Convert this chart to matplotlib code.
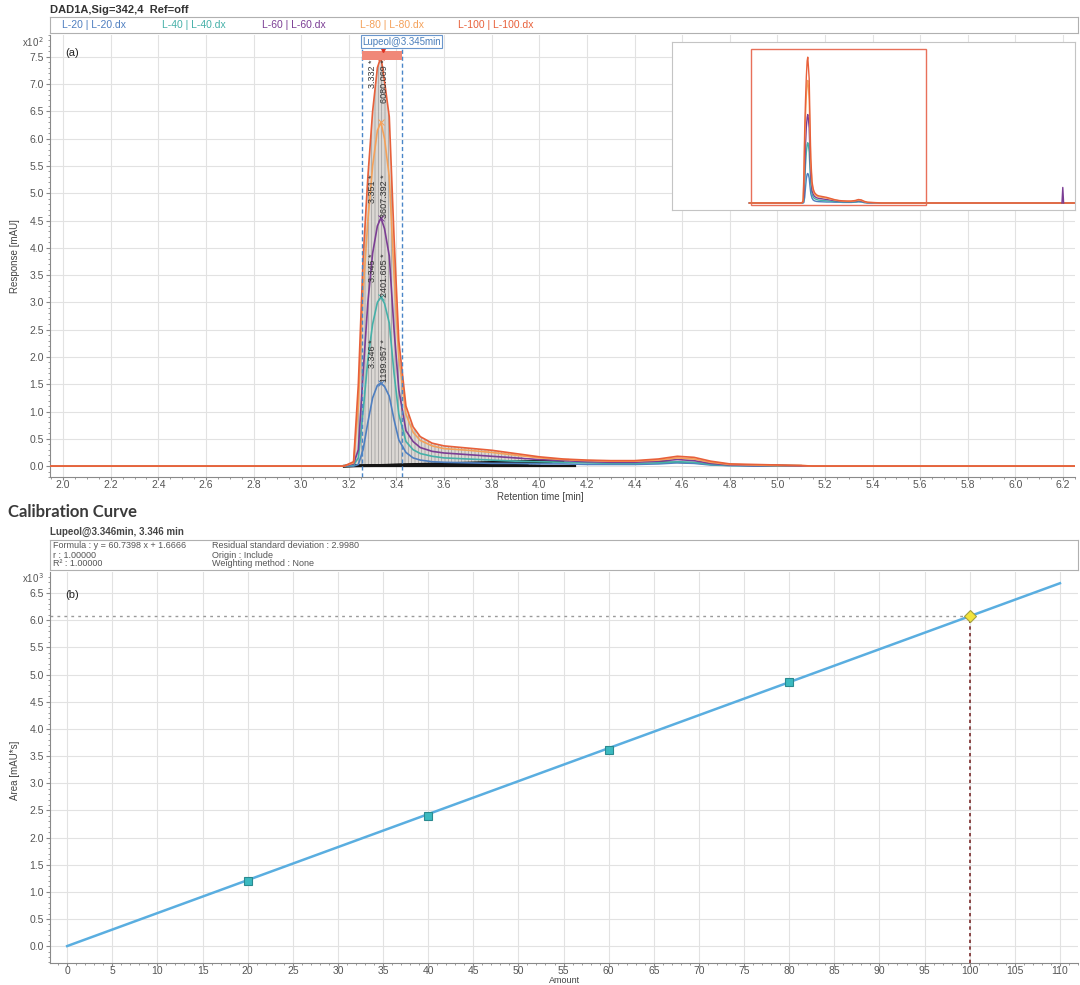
import numpy as np
import matplotlib
matplotlib.use('Agg')
import matplotlib.pyplot as plt
from matplotlib.patches import Rectangle
from matplotlib.ticker import MultipleLocator, FuncFormatter

plt.rcParams['font.family'] = ['Liberation Sans', 'DejaVu Sans']
plt.rcParams['hatch.linewidth'] = 0.5

# ---- (a) chromatogram, response in mAU ----
rt = [1.9, 3.18, 3.22, 3.24, 3.26, 3.28, 3.30, 3.32, 3.335, 3.35, 3.37, 3.39, 3.41, 3.44,
      3.47, 3.50, 3.55, 3.60, 3.70, 3.80, 3.90, 4.00, 4.10, 4.20, 4.30, 4.40, 4.50, 4.58,
      4.65, 4.72, 4.80, 4.90, 5.00, 5.10, 5.15, 10.0]
l20 = [0, 0, 0, 3, 30, 80, 125, 148, 152, 146, 128, 85, 48, 25, 15, 11, 8, 7, 6, 5, 5, 4,
       4, 3, 3, 3, 4, 6, 5, 2, 1, 0, 0, 0, 0, 0]
l40 = [0, 0, 2, 15, 100, 195, 260, 300, 310, 298, 262, 170, 95, 45, 30, 23, 18, 15, 13, 11,
       9, 8, 7, 6, 5, 5, 6, 8, 7, 3, 1, 1, 0, 0, 0, 0]
l60 = [0, 0, 4, 30, 170, 300, 390, 440, 455, 435, 385, 250, 140, 65, 45, 34, 27, 24, 21, 18,
       15, 12, 10, 8, 7, 7, 9, 12, 10, 5, 2, 1, 1, 0, 0, 0]
l80 = [0, 0, 6, 110, 320, 450, 550, 615, 630, 600, 530, 350, 200, 95, 62, 47, 37, 32, 29, 25,
       20, 15, 12, 10, 9, 9, 11, 15, 13, 7, 3, 2, 1, 1, 0, 0]
l100 = [0, 0, 8, 150, 380, 530, 650, 730, 750, 705, 640, 420, 230, 110, 72, 54, 42, 37, 33,
        29, 23, 17, 13, 11, 10, 10, 13, 18, 16, 9, 4, 3, 2, 1, 0, 0]

series = [l20, l40, l60, l80, l100]
series_names = ['L-20 | L-20.dx', 'L-40 | L-40.dx', 'L-60 | L-60.dx', 'L-80 | L-80.dx', 'L-100 | L-100.dx']
series_colors = ['#4f7fc0', '#45b0a8', '#7b3d94', '#f4a15a', '#e8603a']
peak_rt_labels = ['3.346', '3.345', '3.351', None, '3.332']
peak_area_labels = ['1199.957', '2401.605', '3607.392', None, '6080.069']

# integration baselines (start / end)
base_t1 = [4.12, 4.10, 4.05, 4.00, 3.95, 3.90, 4.15]
base_y1 = [11, 9, 7, 5, 3, 2, 0]
tail_t0 = [4.45, 4.78, 4.75]
tail_y0 = [9, 3, 2]
tail_t1 = [4.78, 5.10, 5.08]
tail_y1 = [3, 1, 0]

# peak window and small spike seen in the overview inset
win_start, win_end, win_rt = 3.256, 3.425, 3.345
spike_t = [9.58, 9.60, 9.62]
spike_y = [0, 80, 0]

# ---- (b) calibration ----
amount = [20, 40, 60, 80]
area = [1199.957, 2401.605, 3607.392, 4860.85]
sample_amount = 100
sample_area = 6080.069
slope = 60.7398
intercept = 1.6666
cal_x = np.array([0, 110])

W, H = 1080, 985
fig = plt.figure(figsize=(W / 100, H / 100), dpi=100)


def fx(px):
    return px / W


def fy(py):
    return 1 - py / H


tick_col = '#555555'
grid_col = '#e2e2e2'


def style_axes(ax):
    for s in ['top', 'right']:
        ax.spines[s].set_visible(False)
    for s in ['left', 'bottom']:
        ax.spines[s].set_color('#8a8a8a')
    ax.tick_params(which='both', colors='#8a8a8a', labelcolor=tick_col, labelsize=7.5, direction='out', pad=1.5)
    ax.tick_params(which='major', length=3)
    ax.tick_params(which='minor', length=1.5)
    ax.tick_params(axis='x', which='major', length=2, pad=0.5)
    ax.grid(True, which='major', color=grid_col, lw=0.8)
    ax.set_axisbelow(True)


# title + legend strip
fig.text(fx(50), fy(10), 'DAD1A,Sig=342,4  Ref=off', fontsize=8, weight='bold', color='#333333', va='center')
ax_leg = fig.add_axes([fx(50), fy(33), fx(1028), 16 / H])
ax_leg.set_xticks([])
ax_leg.set_yticks([])
for s in ax_leg.spines.values():
    s.set_color('#b0b0b0')
leg_x = [62, 162, 262, 360, 458]
for name, col, px in zip(series_names, series_colors, leg_x):
    ax_leg.text((px - 50) / 1028, 0.5, name, color=col, fontsize=7.5, va='center', transform=ax_leg.transAxes)

# ---- panel (a) ----
ax = fig.add_axes([fx(50), fy(477), fx(1025), (477 - 35) / H])
style_axes(ax)
rt_arr = np.array(rt)
top = np.array(l100)
ax.fill_between(rt_arr, 0, top, where=(rt_arr >= 3.18) & (rt_arr <= 3.95), interpolate=True,
                facecolor='#dcd8d4', edgecolor='#9a9a9a', hatch='|||||', lw=0, zorder=1)
for t1, y1 in zip(base_t1, base_y1):
    ax.plot([3.18, t1], [0, y1], color='#151515', lw=1.6, zorder=2)
for t0, y0, t1, y1 in zip(tail_t0, tail_y0, tail_t1, tail_y1):
    ax.plot([t0, t1], [y0, y1], color='#404040', lw=1.0, zorder=2)

for ys, col in zip(series, series_colors):
    ax.plot(rt, ys, color=col, lw=1.2, zorder=3)
    i = int(np.argmax(ys))
    ax.plot(rt[i], ys[i], marker='x', ms=5, mew=0.7, color=col, zorder=4)

for ys, lab_rt, lab_area in zip(series, peak_rt_labels, peak_area_labels):
    if lab_rt is None:
        continue
    ytop = min(max(ys) + 80, 745)
    ax.text(3.30, ytop, lab_rt + ' *', rotation=90, va='top', ha='center', fontsize=6.5, color='#333333', zorder=5)
    ax.text(3.352, ytop, lab_area + ' *', rotation=90, va='top', ha='center', fontsize=6.5, color='#333333', zorder=5)

for xv in [win_start, win_end]:
    ax.axvline(xv, ymax=0.975, color='#4a86c8', lw=1.0, ls=(0, (3, 2)), zorder=4)
ax.add_patch(Rectangle((win_start, 745), win_end - win_start, 15, facecolor='#f08878', edgecolor='none', zorder=4))
ax.plot(win_rt, 765, marker='v', ms=5, color='#e03020', zorder=6)
ax.text(win_start, 778, 'Lupeol@3.345min', fontsize=7, color='#4a7ebb', va='center', ha='left', zorder=6,
        bbox=dict(boxstyle='square,pad=0.15', fc='white', ec='#6a96cc', lw=0.8))

ax.set_xlim(1.945, 6.25)
ax.set_ylim(-20, 790)
ax.xaxis.set_major_locator(MultipleLocator(0.2))
ax.xaxis.set_minor_locator(MultipleLocator(0.05))
ax.xaxis.set_major_formatter(FuncFormatter(lambda v, p: '%.1f' % v))
ax.yaxis.set_major_locator(MultipleLocator(50))
ax.yaxis.set_minor_locator(MultipleLocator(10))
ax.yaxis.set_major_formatter(FuncFormatter(lambda v, p: '%.1f' % (v / 100)))
ax.text(0.015, 0.97, '(a)', transform=ax.transAxes, fontsize=8, color='#222222', va='top')
fig.text(fx(22), fy(42), r'x10$^{\,2}$', fontsize=7, color=tick_col, va='center')
fig.text(fx(540), fy(497), 'Retention time [min]', fontsize=7, color='#444444', ha='center', va='center')
fig.text(fx(15), fy(256), 'Response [mAU]', fontsize=7, color='#444444', rotation=90, ha='center', va='center')

# overview inset
ax_in = fig.add_axes([fx(672), fy(210), fx(403), 168 / H])
ax_in.set_facecolor('white')
ax_in.set_xticks([])
ax_in.set_yticks([])
for s in ax_in.spines.values():
    s.set_color('#c4c4c4')
for ys, col in zip(series, series_colors):
    ax_in.plot(rt, ys, color=col, lw=1.0)
ax_in.plot(spike_t, spike_y, color='#7b3d94', lw=1.0)
ax_in.add_patch(Rectangle((1.945, -10), 6.25 - 1.945, 800, fill=False, ec='#e8705a', lw=1.0))
ax_in.set_xlim(0, 9.9)
ax_in.set_ylim(-36, 828)

# ---- panel (b) ----
fig.text(fx(8), fy(512), 'Calibration Curve', fontsize=12, weight='bold', family=['Lato', 'DejaVu Sans'],
         color='#3a3a3a', va='center')
fig.text(fx(50), fy(532), 'Lupeol@3.346min, 3.346 min', fontsize=7, weight='bold', color='#444444', va='center')

ax_info = fig.add_axes([fx(50), fy(570), fx(1028), 30 / H])
ax_info.set_xticks([])
ax_info.set_yticks([])
for s in ax_info.spines.values():
    s.set_color('#b0b0b0')
info_left = ['Formula : y = %.4f x + %.4f' % (slope, intercept), 'r : 1.00000', 'R\u00b2 : 1.00000']
info_right = ['Residual standard deviation : 2.9980', 'Origin : Include', 'Weighting method : None']
for j, yy in enumerate([0.8, 0.5, 0.2]):
    ax_info.text(0.003, yy, info_left[j], fontsize=6.5, color='#555555', va='center', transform=ax_info.transAxes)
    ax_info.text(0.158, yy, info_right[j], fontsize=6.5, color='#555555', va='center', transform=ax_info.transAxes)

axb = fig.add_axes([fx(50), fy(963), fx(1028), (963 - 572) / H])
style_axes(axb)
axb.plot(cal_x, slope * cal_x + intercept, color='#5aaee0', lw=1.8, zorder=3)
axb.plot(amount, area, 's', ms=6, mfc='#3bbac0', mec='#2a8a90', mew=0.8, zorder=4)
axb.hlines(sample_area, -1.9, sample_amount, color='#9a9a9a', lw=1.0, ls=(0, (2, 3)), zorder=2)
axb.vlines(sample_amount, -310, sample_area, color='#7a2a2a', lw=1.2, ls=(0, (2, 2)), zorder=2)
axb.plot(sample_amount, sample_area, 'D', ms=6, mfc='#f2e43c', mec='#a4a040', mew=0.8, zorder=5)
axb.set_xlim(-1.9, 112)
axb.set_ylim(-310, 6890)
axb.xaxis.set_major_locator(MultipleLocator(5))
axb.xaxis.set_minor_locator(MultipleLocator(1))
axb.yaxis.set_major_locator(MultipleLocator(500))
axb.yaxis.set_minor_locator(MultipleLocator(100))
axb.yaxis.set_major_formatter(FuncFormatter(lambda v, p: '%.1f' % (v / 1000)))
axb.text(0.015, 0.955, '(b)', transform=axb.transAxes, fontsize=8, color='#222222', va='top')
fig.text(fx(22), fy(578), r'x10$^{\,3}$', fontsize=7, color=tick_col, va='center')
fig.text(fx(565), fy(980.5), 'Amount', fontsize=6.5, color='#444444', ha='center', va='center')
fig.text(fx(15), fy(770), 'Area [mAU*s]', fontsize=7, color='#444444', rotation=90, ha='center', va='center')

plt.savefig('out.png', dpi=100)
plt.close()
